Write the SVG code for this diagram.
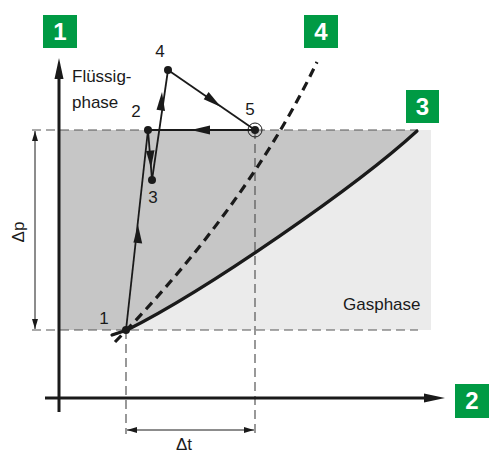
<svg xmlns="http://www.w3.org/2000/svg" width="500" height="470" viewBox="0 0 500 470">
<style>
.txt{font-family:"Liberation Sans",Arial,sans-serif;font-size:17px;fill:#1a1a1a}
.num{font-family:"Liberation Sans",Arial,sans-serif;font-size:24px;font-weight:bold;fill:#fff;text-anchor:middle}
.badge{fill:#009a44}
.guide{stroke:#555;stroke-width:1.2;stroke-dasharray:9,5;fill:none}
.thin{stroke:#1a1a1a;stroke-width:1;fill:none}
.path{stroke:#1a1a1a;stroke-width:1.8;fill:none}
.axis{stroke:#1a1a1a;stroke-width:3;fill:none}
.dot{fill:#1a1a1a}
.arr{fill:#1a1a1a}
</style>
<defs>
<marker id="dimA" viewBox="0 0 10 6" refX="10" refY="3" markerWidth="10" markerHeight="6" markerUnits="userSpaceOnUse" orient="auto-start-reverse">
<path d="M0,0 L10,3 L0,6 Z" fill="#1a1a1a"/>
</marker>
</defs>

<g id="regions">
<rect x="59" y="130" width="372" height="200" fill="#ebebeb"/>
<path d="M59,130 L417,130 C357,186 207,290 127,330 L59,330 Z" fill="#c6c6c6"/>
</g>

<g id="guides">
<line class="guide" x1="32" y1="130" x2="418" y2="130"/>
<line class="guide" x1="32" y1="330" x2="418" y2="330"/>
<line class="guide" x1="126" y1="330" x2="126" y2="434"/>
<line class="guide" x1="255" y1="130" x2="255" y2="434"/>
</g>

<g id="axes">
<line class="axis" x1="59" y1="412" x2="59" y2="74"/>
<path class="arr" d="M59,58 L63.5,79 L54.5,79 Z"/>
<line class="axis" x1="45" y1="398" x2="430" y2="398"/>
<path class="arr" d="M445,398 L424,393.5 L424,402.5 Z"/>
</g>

<g id="dimensions">
<line class="thin" x1="35" y1="131" x2="35" y2="329" marker-start="url(#dimA)" marker-end="url(#dimA)"/>
<line class="thin" x1="127" y1="430" x2="254" y2="430" marker-start="url(#dimA)" marker-end="url(#dimA)"/>
<text class="txt" transform="translate(24,232) rotate(-90)" text-anchor="middle">Δp</text>
<text class="txt" x="184" y="450" text-anchor="middle">Δt</text>
</g>

<g id="curve-3">
<path d="M112,335 L127,330 C207,290 357,186 417,131" stroke="#1a1a1a" stroke-width="3.2" fill="none" stroke-linecap="round"/>
</g>

<g id="curve-4">
<path d="M115,342 C215,240 280,140 317,62" stroke="#1a1a1a" stroke-width="3.2" fill="none" stroke-dasharray="9,6"/>
</g>

<g id="connectors">
<line class="path" x1="126" y1="330" x2="148" y2="130"/>
<path class="arr" d="M138,225 L142.2,243.4 L133.4,242.5 Z"/>
<line class="path" x1="148" y1="130" x2="152" y2="180"/>
<path class="arr" d="M151,168 L146,151 L154.5,150.3 Z"/>
<line class="path" x1="152" y1="180" x2="168" y2="70"/>
<path class="arr" d="M162,92 L165,111 L156.5,109.8 Z"/>
<line class="path" x1="168" y1="70" x2="255" y2="130"/>
<path class="arr" d="M221,107 L203.7,99.2 L208.6,92.1 Z"/>
<line class="path" x1="255" y1="130" x2="148" y2="130"/>
<path class="arr" d="M191,130 L210,125.5 L210,134.5 Z"/>
</g>

<g id="point-1"><circle class="dot" cx="126" cy="330" r="4"/><text class="txt" x="104" y="324" text-anchor="middle">1</text></g>
<g id="point-2"><circle class="dot" cx="148" cy="130" r="4"/><text class="txt" x="136" y="117" text-anchor="middle">2</text></g>
<g id="point-3"><circle class="dot" cx="152" cy="180" r="4"/><text class="txt" x="153" y="203" text-anchor="middle">3</text></g>
<g id="point-4"><circle class="dot" cx="168" cy="70" r="4"/><text class="txt" x="160" y="57" text-anchor="middle">4</text></g>
<g id="point-5"><circle class="dot" cx="255" cy="130" r="4"/><circle cx="255" cy="130" r="7" fill="none" stroke="#1a1a1a" stroke-width="1"/><text class="txt" x="250" y="115" text-anchor="middle">5</text></g>

<g id="labels">
<text class="txt" x="72" y="82">Flüssig-</text>
<text class="txt" x="72" y="108">phase</text>
<text class="txt" x="343" y="310">Gasphase</text>
</g>

<g id="badge-1"><rect class="badge" x="43" y="15" width="34" height="33"/><text class="num" x="60" y="40">1</text></g>
<g id="badge-2"><rect class="badge" x="455" y="384" width="34" height="34"/><text class="num" x="472" y="409">2</text></g>
<g id="badge-3"><rect class="badge" x="406" y="90" width="33" height="33"/><text class="num" x="422.5" y="115">3</text></g>
<g id="badge-4"><rect class="badge" x="304" y="15" width="34" height="33"/><text class="num" x="321" y="40">4</text></g>
</svg>
